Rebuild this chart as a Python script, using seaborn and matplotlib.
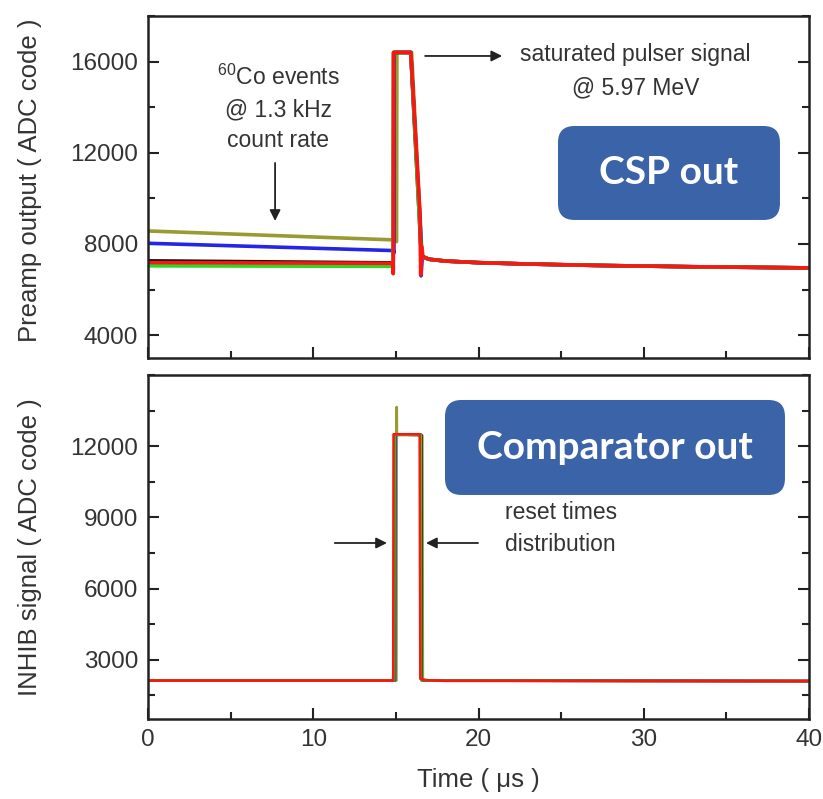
import numpy as np
import pandas as pd
import matplotlib
matplotlib.use("Agg")
import matplotlib.pyplot as plt
from matplotlib.patches import FancyBboxPatch
from matplotlib.ticker import MultipleLocator
import seaborn as sns

# ---------------- data (time in microseconds, signal in ADC code) ----------------
TRACES = ["olive", "blue", "black", "green", "red"]
COLORS = {"olive": "#9A9A32", "blue": "#2525E6", "black": "#121212",
          "green": "#22DD22", "red": "#FF1414"}

# Preamplifier output: baseline, saturated pulse and reset
TAIL_T = [16.7, 17.0, 18.0, 20.0, 23.0, 27.0, 33.0, 40.0]
TAIL_V = [7420, 7330, 7250, 7180, 7120, 7060, 7000, 6950]

CSP_T = {
    "olive": [0, 15.0, 15.04, 15.06, 15.95, 16.55, 16.65],
    "blue":  [0, 14.85, 14.88, 14.9, 15.9, 16.5, 16.52, 16.6],
    "black": [0, 14.8, 14.84, 14.86, 15.9, 16.5, 16.6],
    "green": [0, 14.8, 14.83, 14.86, 15.9, 16.5, 16.6],
    "red":   [0, 14.8, 14.84, 14.86, 15.9, 16.45, 16.5, 16.55, 16.6],
}
CSP_V = {
    "olive": [8570, 8175, 8100, 16400, 16400, 8000, 7450],
    "blue":  [8030, 7710, 7600, 16400, 16400, 8500, 6600, 7450],
    "black": [7260, 7170, 6750, 16400, 16400, 8000, 7420],
    "green": [7040, 7020, 6700, 16400, 16400, 8000, 7380],
    "red":   [7180, 7150, 6700, 16400, 16400, 9400, 6650, 7900, 7450],
}

# Comparator (INHIB) output
INHIB_T = {
    "olive": [0, 15.03, 15.05, 15.06, 15.1, 16.6, 16.63, 17.0, 40],
    "blue":  [0, 14.95, 14.97, 16.52, 16.55, 17.0, 40],
    "black": [0, 14.9, 14.92, 16.53, 16.56, 17.0, 40],
    "green": [0, 14.9, 14.92, 16.5, 16.53, 17.0, 40],
    "red":   [0, 14.84, 14.86, 16.44, 16.48, 16.6, 17.0, 18.0, 40],
}
INHIB_V = {
    "olive": [2120, 2120, 13650, 12550, 12500, 12450, 2150, 2120, 2100],
    "blue":  [2120, 2120, 12480, 12480, 2140, 2120, 2100],
    "black": [2120, 2120, 12480, 12480, 2140, 2120, 2100],
    "green": [2120, 2120, 12480, 12480, 2140, 2120, 2100],
    "red":   [2120, 2120, 12500, 12500, 2200, 2160, 2130, 2110, 2100],
}

CSP_YTICKS = [4000, 8000, 12000, 16000]
INHIB_YTICKS = [3000, 6000, 9000, 12000]
X_TICKS = [0, 10, 20, 30, 40]


def frame(times, values, tail=None):
    rows = []
    for name in TRACES:
        t = list(times[name])
        v = list(values[name])
        if tail is not None:
            t += tail[0]
            v += tail[1]
        rows.append(pd.DataFrame({"t": t, "v": v, "trace": name}))
    return pd.concat(rows, ignore_index=True)


csp = frame(CSP_T, CSP_V, (TAIL_T, TAIL_V))
inhib = frame(INHIB_T, INHIB_V)

# ---------------- figure ----------------
sns.set_theme(style="ticks")
plt.rcParams["font.family"] = ["Liberation Sans", "DejaVu Sans"]
plt.rcParams["mathtext.default"] = "regular"

fig = plt.figure(figsize=(8.23, 7.99), dpi=100)
ax_top = fig.add_axes([0.1798, 0.552, 0.8033, 0.428])
ax_bot = fig.add_axes([0.1798, 0.1001, 0.8033, 0.4306])

sns.lineplot(data=csp, x="t", y="v", hue="trace", hue_order=TRACES,
             palette=COLORS, estimator=None, sort=False, legend=False,
             lw=2.6, ax=ax_top)
sns.lineplot(data=inhib, x="t", y="v", hue="trace", hue_order=TRACES,
             palette=COLORS, estimator=None, sort=False, legend=False,
             lw=1.9, ax=ax_bot)

for ax in (ax_top, ax_bot):
    ax.set_xlim(0, 40)
    ax.xaxis.set_major_locator(MultipleLocator(10))
    ax.xaxis.set_minor_locator(MultipleLocator(5))
    ax.tick_params(which="both", direction="in", right=True, top=False,
                   width=1.5, colors="#222222", labelcolor="#333333",
                   labelsize=17.5, pad=7)
    ax.tick_params(which="major", length=8)
    ax.tick_params(which="minor", length=5)
    for sp in ax.spines.values():
        sp.set_visible(True)
        sp.set_linewidth(1.8)
        sp.set_color("#222222")
    ax.set_xlabel("")
    ax.set_ylabel("")

ax_top.set_ylim(3000, 18000)
ax_top.set_yticks(CSP_YTICKS)
ax_top.yaxis.set_minor_locator(MultipleLocator(2000))
ax_top.tick_params(axis="x", labelbottom=False)
ax_top.set_ylabel("Preamp output ( ADC code )", fontsize=18.5, color="#333333")
ax_top.yaxis.set_label_coords(-0.160, 0.52)

ax_bot.set_ylim(500, 15000)
ax_bot.set_yticks(INHIB_YTICKS)
ax_bot.yaxis.set_minor_locator(MultipleLocator(1500))
ax_bot.set_xticks(X_TICKS)
ax_bot.set_ylabel("INHIB signal ( ADC code )", fontsize=18.5, color="#333333")
ax_bot.yaxis.set_label_coords(-0.160, 0.5)
ax_bot.set_xlabel("Time ( \u03bcs )", fontsize=18.5, color="#333333")
ax_bot.xaxis.set_label_coords(0.5, -0.142)

# ---------------- annotations ----------------
txt = dict(fontsize=16.5, color="#333333", ha="center", va="center")
arrow = dict(arrowstyle="-|>", color="#222222", lw=1.3, mutation_scale=16,
             shrinkA=0, shrinkB=0)

ax_top.text(7.87, 15325, r"$^{60}$Co events", **txt)
ax_top.text(7.87, 13877, "@ 1.3 kHz", **txt)
ax_top.text(7.87, 12517, "count rate", **txt)
ax_top.annotate("", xy=(7.69, 9009), xytext=(7.69, 11553), arrowprops=arrow)

ax_top.text(29.5, 16290, "saturated pulser signal", **txt)
ax_top.text(29.5, 14842, "@ 5.97 MeV", **txt)
ax_top.annotate("", xy=(21.43, 16246), xytext=(16.77, 16246), arrowprops=arrow)

ax_bot.text(21.6, 9183, "reset times", fontsize=16.5, color="#333333",
            ha="left", va="center")
ax_bot.text(21.6, 7835, "distribution", fontsize=16.5, color="#333333",
            ha="left", va="center")
ax_bot.annotate("", xy=(14.46, 7919), xytext=(11.3, 7919), arrowprops=arrow)
ax_bot.annotate("", xy=(16.82, 7919), xytext=(19.97, 7919), arrowprops=arrow)

# ---------------- labelled boxes ----------------
BOX_COLOR = "#3B64A8"
aspect = 823 / 799
for (x0, y0, w, h, label) in [
    (0.678, 0.7247, 0.2697, 0.1176, "CSP out"),
    (0.5407, 0.3805, 0.4131, 0.1189, "Comparator out"),
]:
    fig.patches.append(FancyBboxPatch(
        (x0, y0), w, h, boxstyle="round,pad=0,rounding_size=0.02",
        mutation_aspect=aspect, transform=fig.transFigure,
        facecolor=BOX_COLOR, edgecolor="none", zorder=5))
    fig.text(x0 + w / 2, y0 + h / 2, label, family=["Lato", "DejaVu Sans"],
             fontweight="bold", fontsize=28, color="white",
             ha="center", va="center", zorder=6)

fig.savefig("out.png", dpi=100)
